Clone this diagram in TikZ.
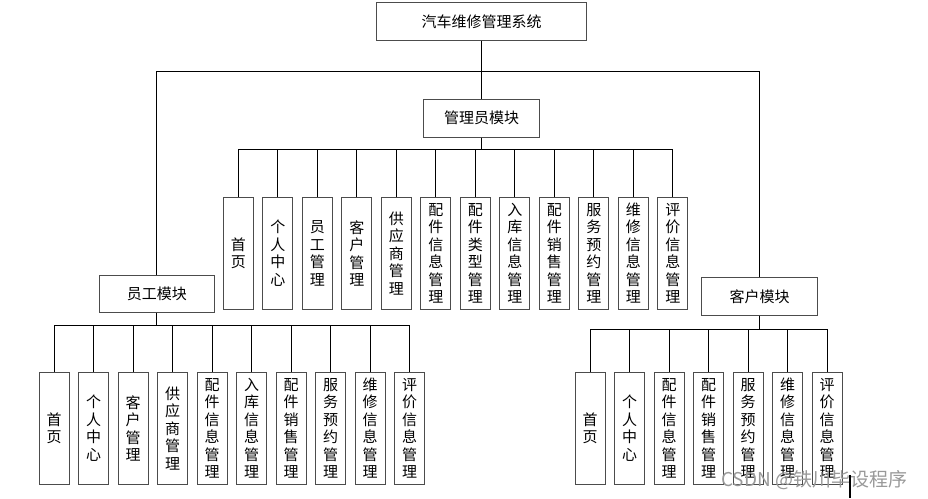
\documentclass[tikz,border=0pt]{standalone}
\usepackage{fontspec}
\newfontfamily\cjk{Noto Sans CJK SC}
\tikzset{
  box/.style={draw=black!70, line width=0.9pt, fill=white, inner sep=0pt,
    font=\cjk\fontsize{15}{17.5}\selectfont, text=black},
  hbox/.style={box, minimum height=38pt},
  vbox/.style={box, minimum width=30pt, minimum height=112pt, align=center},
  conn/.style={draw=black, line width=0.9pt},
  mark2/.style={draw=black, line width=2pt}
}
\begin{document}
\begin{tikzpicture}[x=1pt,y=-1pt]
\useasboundingbox[fill=white] (0,0) rectangle (928,498);

% top
\node[hbox, minimum width=210pt, minimum height=37.5pt] (sys) at (481.7,21.5) {汽车维修管理系统};
\node[hbox, minimum width=116pt] (adm) at (481.7,118.2) {管理员模块};
\node[hbox, minimum width=115pt, minimum height=37pt] (stf) at (156.8,294.2) {员工模块};
\node[hbox, minimum width=115.5pt, minimum height=37.5pt] (cus) at (759.5,296.5) {客户模块};

\coordinate (hl) at (156.8,71.7);
\coordinate (hr) at (759.5,71.7);
\draw[conn] (sys.south) -- (adm.north);
\draw[conn] (stf.north) -- (hl) -- (hr) -- (cus.north);

% admin children
\foreach \t [count=\i from 0] in {首\\页, 个\\人\\中\\心, 员\\工\\管\\理, 客\\户\\管\\理, 供\\应\\商\\管\\理, 配\\件\\信\\息\\管\\理, 配\\件\\类\\型\\管\\理, 入\\库\\信\\息\\管\\理, 配\\件\\销\\售\\管\\理, 服\\务\\预\\约\\管\\理, 维\\修\\信\\息\\管\\理, 评\\价\\信\\息\\管\\理}{
  \node[vbox] (a\i) at ({238.3+39.5*\i},253.3) {\t};
}
\coordinate (abus) at (481.7,149.7);
\draw[conn] (adm.south) -- (abus);
\draw[conn] (a0.north) |- (abus) -| (a11.north);
\foreach \i in {1,...,10}{
  \draw[conn] (a\i.north) -- (a\i.north |- abus);
}

% staff children
\foreach \t [count=\i from 0] in {首\\页, 个\\人\\中\\心, 客\\户\\管\\理, 供\\应\\商\\管\\理, 配\\件\\信\\息\\管\\理, 入\\库\\信\\息\\管\\理, 配\\件\\销\\售\\管\\理, 服\\务\\预\\约\\管\\理, 维\\修\\信\\息\\管\\理, 评\\价\\信\\息\\管\\理}{
  \node[vbox] (s\i) at ({54+39.5*\i},428.3) {\t};
}
\coordinate (sbus) at (156.8,325.7);
\draw[conn] (stf.south) -- (sbus);
\draw[conn] (s0.north) |- (sbus) -| (s9.north);
\foreach \i in {1,...,8}{
  \draw[conn] (s\i.north) -- (s\i.north |- sbus);
}

% customer children
\foreach \t [count=\i from 0] in {首\\页, 个\\人\\中\\心, 配\\件\\信\\息\\管\\理, 配\\件\\销\\售\\管\\理, 服\\务\\预\\约\\管\\理, 维\\修\\信\\息\\管\\理, 评\\价\\信\\息\\管\\理}{
  \node[vbox] (c\i) at ({590+39.5*\i},428.3) {\t};
}
\coordinate (cbus) at (759.5,329.7);
\draw[conn] (cus.south) -- (cbus);
\draw[conn] (c0.north) |- (cbus) -| (c6.north);
\foreach \i in {1,...,5}{
  \draw[conn] (c\i.north) -- (c\i.north |- cbus);
}

% watermark and mark
\node[font=\cjk\fontsize{19}{21}\selectfont, text=black!40, anchor=west, inner sep=0pt] (wm) at (721,480) {CSDN @铁川毕设程序};
\coordinate (m1) at (850,475);
\coordinate (m2) at (850,498);
\draw[mark2] (m1) -- (m2);
\end{tikzpicture}
\end{document}
